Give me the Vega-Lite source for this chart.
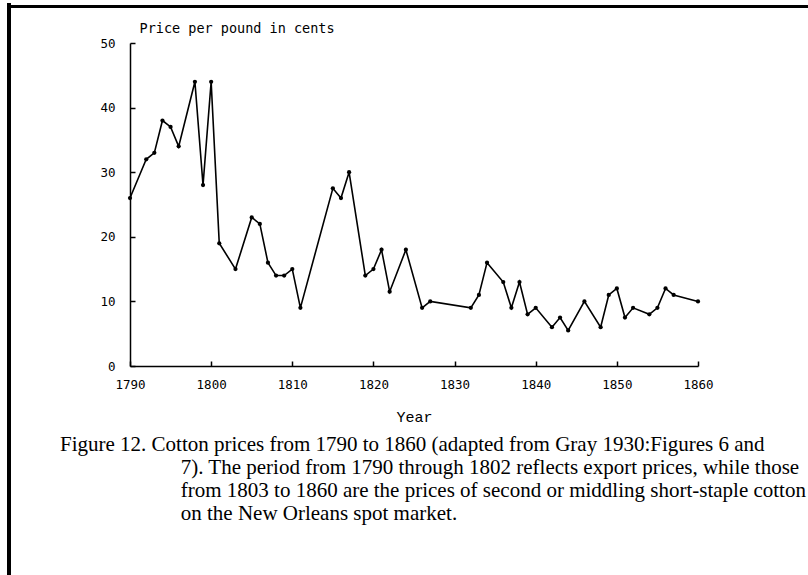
{
  "$schema": "https://vega.github.io/schema/vega-lite/v6.json",
  "autosize": {"type": "none"},
  "width": 568,
  "height": 323,
  "padding": {"left": 130, "top": 43, "right": 110, "bottom": 209},
  "background": "white",
  "config": {
    "view": {"stroke": null},
    "axis": {"grid": false, "domainColor": "black", "tickColor": "black", "labelColor": "black", "titleColor": "black", "domainWidth": 1.5, "tickWidth": 1.5}
  },
  "title": {
    "text": [
      "Figure 12. Cotton prices from 1790 to 1860 (adapted from Gray 1930:Figures 6 and",
      "\u200b\u00a0\u00a0\u00a0\u00a0\u00a0\u00a0\u00a0\u00a0\u00a0\u00a0\u00a0\u00a0\u00a0\u00a0\u00a0\u00a0\u00a0\u00a0\u00a0\u00a0\u00a0\u00a0\u00a07). The period from 1790 through 1802 reflects export prices, while those",
      "\u200b\u00a0\u00a0\u00a0\u00a0\u00a0\u00a0\u00a0\u00a0\u00a0\u00a0\u00a0\u00a0\u00a0\u00a0\u00a0\u00a0\u00a0\u00a0\u00a0\u00a0\u00a0\u00a0\u00a0from 1803 to 1860 are the prices of second or middling short-staple cotton",
      "\u200b\u00a0\u00a0\u00a0\u00a0\u00a0\u00a0\u00a0\u00a0\u00a0\u00a0\u00a0\u00a0\u00a0\u00a0\u00a0\u00a0\u00a0\u00a0\u00a0\u00a0\u00a0\u00a0\u00a0on the New Orleans spot market."
    ],
    "orient": "bottom",
    "anchor": "start",
    "frame": "group",
    "baseline": "top",
    "dx": -70,
    "offset": -146,
    "font": "Liberation Serif",
    "fontSize": 21,
    "fontWeight": "normal",
    "lineHeight": 23,
    "color": "black"
  },
  "data": {
    "values": [
      {"year": 1790, "price": 26},
      {"year": 1792, "price": 32},
      {"year": 1793, "price": 33},
      {"year": 1794, "price": 38},
      {"year": 1795, "price": 37},
      {"year": 1796, "price": 34},
      {"year": 1798, "price": 44},
      {"year": 1799, "price": 28},
      {"year": 1800, "price": 44},
      {"year": 1801, "price": 19},
      {"year": 1803, "price": 15},
      {"year": 1805, "price": 23},
      {"year": 1806, "price": 22},
      {"year": 1807, "price": 16},
      {"year": 1808, "price": 14},
      {"year": 1809, "price": 14},
      {"year": 1810, "price": 15},
      {"year": 1811, "price": 9},
      {"year": 1815, "price": 27.5},
      {"year": 1816, "price": 26},
      {"year": 1817, "price": 30},
      {"year": 1819, "price": 14},
      {"year": 1820, "price": 15},
      {"year": 1821, "price": 18},
      {"year": 1822, "price": 11.5},
      {"year": 1824, "price": 18},
      {"year": 1826, "price": 9},
      {"year": 1827, "price": 10},
      {"year": 1832, "price": 9},
      {"year": 1833, "price": 11},
      {"year": 1834, "price": 16},
      {"year": 1836, "price": 13},
      {"year": 1837, "price": 9},
      {"year": 1838, "price": 13},
      {"year": 1839, "price": 8},
      {"year": 1840, "price": 9},
      {"year": 1842, "price": 6},
      {"year": 1843, "price": 7.5},
      {"year": 1844, "price": 5.5},
      {"year": 1846, "price": 10},
      {"year": 1848, "price": 6},
      {"year": 1849, "price": 11},
      {"year": 1850, "price": 12},
      {"year": 1851, "price": 7.5},
      {"year": 1852, "price": 9},
      {"year": 1854, "price": 8},
      {"year": 1855, "price": 9},
      {"year": 1856, "price": 12},
      {"year": 1857, "price": 11},
      {"year": 1860, "price": 10}
    ]
  },
  "encoding": {
    "x": {
      "field": "year",
      "type": "quantitative",
      "scale": {"domain": [1790, 1860], "nice": false, "zero": false},
      "axis": {
        "title": "Year",
        "values": [1790, 1800, 1810, 1820, 1830, 1840, 1850, 1860],
        "format": "d",
        "tickSize": -5,
        "labelPadding": 17,
        "labelFont": "DejaVu Sans Mono",
        "labelFontSize": 12.5,
        "labelFlush": false,
        "titleFont": "Liberation Mono",
        "titleFontSize": 15,
        "titleFontWeight": "normal",
        "titlePadding": 19
      }
    },
    "y": {
      "field": "price",
      "type": "quantitative",
      "scale": {"domain": [0, 50], "nice": false},
      "axis": {
        "title": "Price per pound in cents",
        "values": [0, 10, 20, 30, 40, 50],
        "tickSize": -5,
        "labelPadding": 20,
        "labelFont": "DejaVu Sans Mono",
        "labelFontSize": 12.5,
        "labelFlush": false,
        "titleFont": "DejaVu Sans Mono",
        "titleFontSize": 13.5,
        "titleFontWeight": "normal",
        "titleAngle": 0,
        "titleAlign": "left",
        "titleBaseline": "alphabetic",
        "titleX": 9,
        "titleY": -11
      }
    }
  },
  "layer": [
    {"mark": {"type": "line", "color": "black", "strokeWidth": 1.6}},
    {"mark": {"type": "point", "filled": true, "color": "black", "size": 18, "opacity": 1}},
    {
      "mark": {"type": "rule", "color": "black", "strokeWidth": 2.5, "clip": false},
      "encoding": {
        "x": {"datum": 1775.1},
        "y": {"datum": 56.2},
        "y2": {"datum": -33}
      }
    },
    {
      "mark": {"type": "rule", "color": "black", "strokeWidth": 2.5, "clip": false},
      "encoding": {
        "x": {"datum": 1775.0},
        "x2": {"datum": 1874},
        "y": {"datum": 55.7}
      }
    }
  ]
}
